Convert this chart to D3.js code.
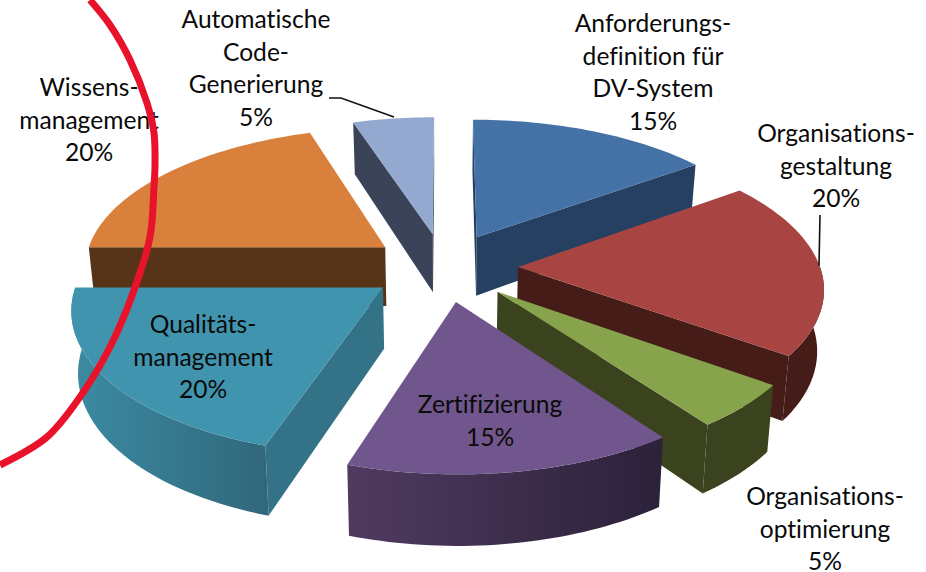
<!DOCTYPE html>
<html>
<head>
<meta charset="utf-8">
<script src="https://cdnjs.cloudflare.com/ajax/libs/d3/7.8.5/d3.min.js"></script>
<style>
  html, body { margin: 0; background: #fff; }
  text { font-family: Lato, "Open Sans", sans-serif; font-size: 24.6px; fill: #0a0a0a; text-anchor: middle; font-variant-ligatures: none; }
</style>
</head>
<body>
<svg id="chart" width="926" height="572"></svg>
<script>
const shares = [15, 20, 5, 15, 20, 20, 5];
const labels = [
  ['Anforderungs-', 'definition für', 'DV-System', '15%'],
  ['Organisations-', 'gestaltung', '20%'],
  ['Organisations-', 'optimierung', '5%'],
  ['Zertifizierung', '15%'],
  ['Qualitäts-', 'management', '20%'],
  ['Wissens-', 'management', '20%'],
  ['Automatische', 'Code-', 'Generierung', '5%']
];
const topColors = ['#4471a6', '#a84543', '#87a44d', '#70568c', '#4194ad', '#d9813c', '#93a9cf'];
const sideColors = ['#254061', '#461c19', '#3a431d', '#2b2139', '#347387', '#573418', '#3b4358'];
const wallLeft = ['#254061', '#461c19', '#3a431d', '#503b60', '#3c8ba3', '#573418', '#3b4358'];
const wallRight = ['#254061', '#461c19', '#3a431d', '#2b2139', '#30677a', '#573418', '#3b4358'];

const labelX = [653, 836, 825, 490, 203, 89, 256];
const labelTop = [32, 142, 505, 413, 333, 96, 28];
const lineHeight = 32.5;

const leaders = [
  [[329, 98], [341, 98], [394, 117]],
  [[820, 215], [819, 266]]
];
const redStroke = [[90, 0], [110, 25], [130, 60], [147, 103], [154, 133], [155, 165], [154, 187], [150, 237], [133, 293], [110, 347], [80, 397], [47, 437], [0, 465]];

const svg = d3.select('#chart');
const defs = svg.append('defs');

const explode = 0.245;
const perspective = 0.13;
const depth = 60;
const bottomShrink = 0.018;

const x = d3.scaleLinear().domain([-1, 1]).range([444 - 302, 444 + 302]);
const y = d3.scaleLinear().domain([-1, 1]).range([267 + 140, 267 - 140]);

// perspective is applied after the slice has been pulled out of the pie
function project(angle, radius, mid, lift) {
  const wx = radius * Math.sin(angle) + explode * Math.sin(mid);
  const wy = radius * Math.cos(angle) + explode * Math.cos(mid);
  const s = 1 / (1 + perspective * wy);
  return [x(wx * s * (1 - bottomShrink * lift)), y(wy * s) + lift * depth * s];
}

const pie = d3.pie().sort(null).value(d => d)(shares);
const line = d3.line();
const path = pts => line(pts) + 'Z';
const steps = (a, b) => d3.range(0, 41).map(i => a + (b - a) * i / 40);

const front = [Math.PI / 2, Math.PI * 1.5];

const slices = pie
  .map(d => ({ ...d, mid: (d.startAngle + d.endAngle) / 2 }))
  .sort((a, b) => d3.descending(Math.cos(a.mid), Math.cos(b.mid)));

const g = svg.append('g');

slices.forEach(d => {
  const i = d.index;
  const { startAngle: a0, endAngle: a1, mid } = d;

  const face = a => [
    project(0, 0, mid, 0), project(a, 1, mid, 0),
    project(a, 1, mid, 1), project(0, 0, mid, 1)
  ];
  const startFace = face(a0);
  const endFace = face(a1);
  if (d3.polygonArea(startFace) > 0) g.append('path').attr('d', path(startFace)).attr('fill', sideColors[i]);
  if (d3.polygonArea(endFace) < 0) g.append('path').attr('d', path(endFace)).attr('fill', sideColors[i]);

  const w0 = Math.max(a0, front[0]);
  const w1 = Math.min(a1, front[1]);
  if (w1 > w0) {
    const grad = defs.append('linearGradient').attr('id', 'wall' + i);
    grad.append('stop').attr('offset', 0).attr('stop-color', wallLeft[i]);
    grad.append('stop').attr('offset', 1).attr('stop-color', wallRight[i]);
    const arc = steps(w0, w1);
    const wall = arc.map(a => project(a, 1, mid, 0)).concat(arc.slice().reverse().map(a => project(a, 1, mid, 1)));
    g.append('path').attr('d', path(wall)).attr('fill', `url(#wall${i})`);
  }

  const top = [project(0, 0, mid, 0)].concat(steps(a0, a1).map(a => project(a, 1, mid, 0)));
  g.append('path').attr('d', path(top)).attr('fill', topColors[i]);
});

svg.append('g').selectAll('path').data(leaders).join('path')
  .attr('d', line)
  .attr('fill', 'none')
  .attr('stroke', '#111')
  .attr('stroke-width', 1.6);

svg.append('g').selectAll('text').data(labels).join('text')
  .attr('x', (d, i) => labelX[i])
  .attr('y', (d, i) => labelTop[i])
  .selectAll('tspan').data((d, i) => d.map(t => ({ t, i }))).join('tspan')
  .attr('x', d => labelX[d.i])
  .attr('dy', (d, j) => j ? lineHeight : 0)
  .text(d => d.t);

svg.append('path')
  .attr('d', d3.line().curve(d3.curveCatmullRom)(redStroke))
  .attr('fill', 'none')
  .attr('stroke', '#e8132a')
  .attr('stroke-width', 7);
</script>
</body>
</html>
